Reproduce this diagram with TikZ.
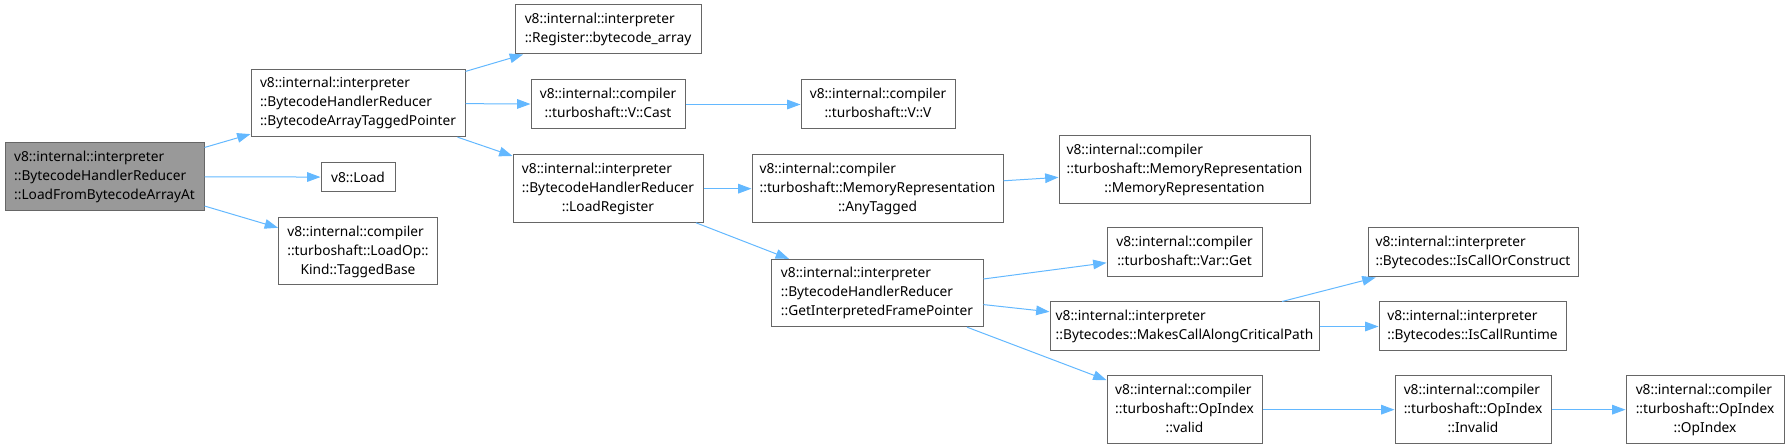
\documentclass[tikz,border=0pt]{standalone}
\usepackage{fontspec}
\setmainfont{Noto Sans}
\usepackage{tikz}
\usetikzlibrary{arrows.meta,positioning}
\definecolor{cgedge}{HTML}{63B8FF}
\definecolor{cgborder}{HTML}{666666}
\definecolor{cgroot}{HTML}{999999}
\newcommand{\fnlabel}[2]{\begin{tabular}{@{}l@{}}#1\\\multicolumn{1}{@{}c@{}}{#2}\end{tabular}}

\begin{document}
\begin{tikzpicture}[x=0.75pt,y=-0.75pt,
    fn/.style={draw=cgborder,fill=white,line width=0.75pt,inner sep=0pt,
      font=\fontsize{10.3pt}{14.25pt}\selectfont},
    fn2/.style={fn,minimum height=36.75pt},
    fn3/.style={fn,minimum height=50.5pt},
    arr/.style={-{Stealth[length=10pt,width=7.2pt,inset=0pt]},cgedge,line width=0.75pt}]
  \useasboundingbox (0,0) rectangle (1787,448);
  \node[fn3,fill=cgroot,minimum width=149.25pt] (root) at (104.5,176.5)
    {\fnlabel{v8::internal::interpreter\\::BytecodeHandlerReducer}{::LoadFromBytecodeArrayAt}};
  \node[fn3,minimum width=160.5pt] (batp) at (358,103)
    {\fnlabel{v8::internal::interpreter\\::BytecodeHandlerReducer}{::BytecodeArrayTaggedPointer}};
  \node[fn,minimum width=55.5pt,minimum height=21.75pt,below=18.75pt of batp] (load) {v8::Load};
  \node[fn3,minimum width=119.25pt,below=18.75pt of load] (tagged)
    {\fnlabel{v8::internal::compiler\\::turboshaft::LoadOp::}{Kind::TaggedBase}};
  \node[fn2,minimum width=139.5pt] (reg) at (608,29.5)
    {\fnlabel{v8::internal::interpreter}{::Register::bytecode\_array}};
  \node[fn2,minimum width=115.5pt,below=18.75pt of reg] (cast)
    {\fnlabel{v8::internal::compiler}{::turboshaft::V::Cast}};
  \node[fn2,minimum width=115.5pt,right=86.25pt of cast] (vv)
    {\fnlabel{v8::internal::compiler}{::turboshaft::V::V}};
  \node[fn3,minimum width=142.5pt,below=18.75pt of cast] (loadreg)
    {\fnlabel{v8::internal::interpreter\\::BytecodeHandlerReducer}{::LoadRegister}};
  \node[fn3,minimum width=188.25pt,right=36pt of loadreg] (anytag)
    {\fnlabel{v8::internal::compiler\\::turboshaft::MemoryRepresentation}{::AnyTagged}};
  \node[fn3,minimum width=188.25pt] (memrep) at (1184.5,169.5)
    {\fnlabel{v8::internal::compiler\\::turboshaft::MemoryRepresentation}{::MemoryRepresentation}};
  \node[fn3,minimum width=159pt] (gifp) at (877,293)
    {\fnlabel{v8::internal::interpreter\\::BytecodeHandlerReducer}{::GetInterpretedFramePointer}};
  \node[fn2,minimum width=116.25pt] (varget) at (1184.5,252.5)
    {\fnlabel{v8::internal::compiler}{::turboshaft::Var::Get}};
  \node[fn2,minimum width=201.75pt,below=18pt of varget] (makes)
    {\fnlabel{v8::internal::interpreter}{::Bytecodes::MakesCallAlongCriticalPath}};
  \node[fn3,minimum width=116.25pt,below=18pt of makes] (valid)
    {\fnlabel{v8::internal::compiler\\::turboshaft::OpIndex}{::valid}};
  \node[fn2,minimum width=157.5pt,right=78.75pt of varget] (iscoc)
    {\fnlabel{v8::internal::interpreter}{::Bytecodes::IsCallOrConstruct}};
  \node[fn2,minimum width=140.25pt,right=44.25pt of makes] (isrt)
    {\fnlabel{v8::internal::interpreter}{::Bytecodes::IsCallRuntime}};
  \node[fn3,minimum width=117pt,right=99pt of valid] (invalid)
    {\fnlabel{v8::internal::compiler\\::turboshaft::OpIndex}{::Invalid}};
  \node[fn3,minimum width=118.5pt,right=55.5pt of invalid] (opindex)
    {\fnlabel{v8::internal::compiler\\::turboshaft::OpIndex}{::OpIndex}};
  % calls
  \draw[arr] (root) -- (batp);
  \draw[arr] (root) -- (load);
  \draw[arr] (root) -- (tagged);
  \draw[arr] (batp) -- (reg);
  \draw[arr] (batp) -- (cast);
  \draw[arr] (batp) -- (loadreg);
  \draw[arr] (cast) -- (vv);
  \draw[arr] (loadreg) -- (anytag);
  \draw[arr] (loadreg) -- (gifp);
  \draw[arr] (anytag) -- (memrep);
  \draw[arr] (gifp) -- (varget);
  \draw[arr] (gifp) -- (makes);
  \draw[arr] (gifp) -- (valid);
  \draw[arr] (makes) -- (iscoc);
  \draw[arr] (makes) -- (isrt);
  \draw[arr] (valid) -- (invalid);
  \draw[arr] (invalid) -- (opindex);
\end{tikzpicture}
\end{document}
